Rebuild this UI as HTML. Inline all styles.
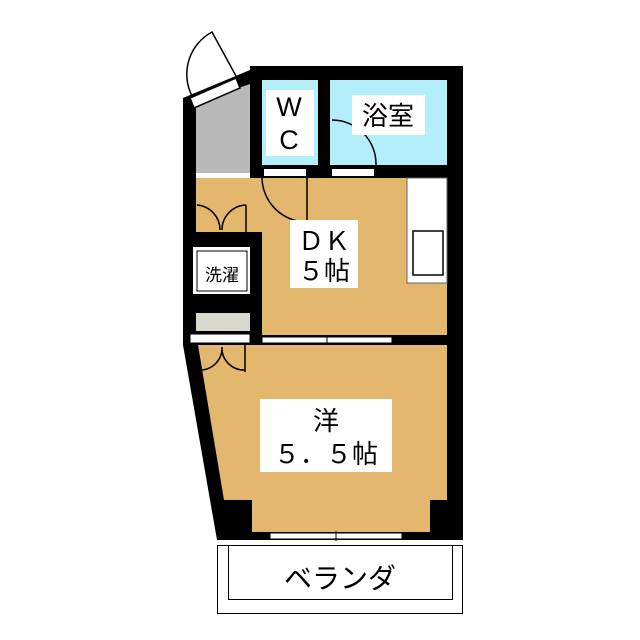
<!DOCTYPE html>
<html><head><style>body{margin:0;background:#fff}svg{display:block}text{font-family:"Liberation Sans","Noto Sans CJK JP",sans-serif;fill:#000}</style></head><body>
<svg width="640" height="640" viewBox="0 0 640 640">
<rect width="640" height="640" fill="#fff"/>
<!-- floors -->
<rect x="196" y="178" width="251" height="167" fill="#e3b76e"/>
<polygon points="196,345 447,345 447,500 430,500 430,532 252,532 252,500 222,500" fill="#e3b76e"/>
<rect x="262" y="80" width="56" height="85" fill="#b3eefa"/>
<rect x="330" y="80" width="117" height="85" fill="#b3eefa"/>
<polygon points="196,100 250,82 250,173 196,173" fill="#b9b9b9"/>
<!-- walls -->
<rect x="250" y="66" width="213" height="14" fill="#000"/>
<rect x="447" y="66" width="16" height="474" fill="#000"/>
<rect x="250" y="66" width="12" height="112" fill="#000"/>
<rect x="318" y="66" width="12" height="112" fill="#000"/>
<rect x="250" y="165" width="213" height="13" fill="#000"/>
<polygon points="183,98 250,70 250,84 196,103" fill="#000"/>
<rect x="183" y="98" width="13" height="247" fill="#000"/>
<polygon points="183,345 198,345 224,500 252,500 252,540 217,540" fill="#000"/>
<rect x="430" y="500" width="17" height="40" fill="#000"/>
<rect x="217" y="532" width="246" height="8" fill="#000"/>
<rect x="188" y="232" width="74" height="113" fill="#000"/>
<rect x="183" y="335" width="280" height="10" fill="#000"/>
<!-- closet -->
<rect x="193" y="247" width="57" height="47" fill="#fff"/>
<rect x="197" y="251" width="50" height="40" fill="none" stroke="#000" stroke-width="1"/>
<text x="222" y="281" font-size="17" text-anchor="middle">洗濯</text>
<rect x="196" y="313" width="54" height="18" fill="#d8d8cc"/>
<rect x="190" y="334" width="60" height="9" fill="#fff" stroke="#000"/>
<!-- doors / windows -->
<rect x="264" y="169" width="42" height="7" fill="#fff"/>
<rect x="332" y="169" width="42" height="7" fill="#fff"/>
<path d="M262,178 A45,45 0 0 0 307,222 L307,178" fill="none" stroke="#000" stroke-width="1.5"/>
<path d="M332,120 A44,44 0 0 1 376,165" fill="none" stroke="#000" stroke-width="1.5"/>
<rect x="262" y="337" width="130" height="6" fill="#fff" stroke="#000"/>
<line x1="327" y1="335" x2="327" y2="345" stroke="#000"/>
<rect x="270" y="533" width="132" height="6" fill="#fff" stroke="#000"/>
<line x1="336" y1="531" x2="336" y2="541" stroke="#000"/>
<path d="M197,205 A25,25 0 0 1 220,230 M246,205 A25,25 0 0 0 222,230 M246,205 L246,232" fill="none" stroke="#000" stroke-width="1.5"/>
<path d="M200,370 A22,22 0 0 0 222,347 M245,370 A22,22 0 0 1 222,347 M245,345 L245,372" fill="none" stroke="#000" stroke-width="1.5"/>
<!-- entry door -->
<path d="M190,98 L236,78 L240,88 L194,108 Z" fill="#fff" stroke="#000" stroke-width="1.5"/>
<path d="M236,76 L212,32 A48,48 0 0 0 192,96" fill="none" stroke="#000" stroke-width="1.5"/>
<!-- kitchen -->
<rect x="407" y="178" width="40" height="105" fill="#fff" stroke="#666"/>
<rect x="413" y="231" width="30" height="44" fill="#fff" stroke="#000" stroke-width="1.5"/>
<!-- veranda -->
<rect x="217.5" y="545.5" width="245" height="68" fill="#fff" stroke="#000"/>
<rect x="228.5" y="545.5" width="224" height="54" fill="none" stroke="#000"/>
<!-- labels -->
<rect x="266" y="90" width="48" height="66" fill="#fff"/>
<text x="289" y="116" font-size="27" text-anchor="middle">W</text>
<text x="289" y="149" font-size="27" text-anchor="middle">C</text>
<rect x="352" y="95" width="73" height="40" fill="#fff"/>
<text x="388" y="125" font-size="26" text-anchor="middle">浴室</text>
<rect x="290" y="220" width="68" height="68" fill="#fff"/>
<text x="324" y="250" font-size="26" text-anchor="middle">ＤＫ</text>
<text x="324" y="280" font-size="26" text-anchor="middle">５帖</text>
<rect x="260" y="399" width="132" height="73" fill="#fff"/>
<text x="326" y="430" font-size="26" text-anchor="middle">洋</text>
<text x="326" y="463" font-size="26" text-anchor="middle">５．５帖</text>
<text x="340" y="588" font-size="28" text-anchor="middle">ベランダ</text>
</svg>
</body></html>
